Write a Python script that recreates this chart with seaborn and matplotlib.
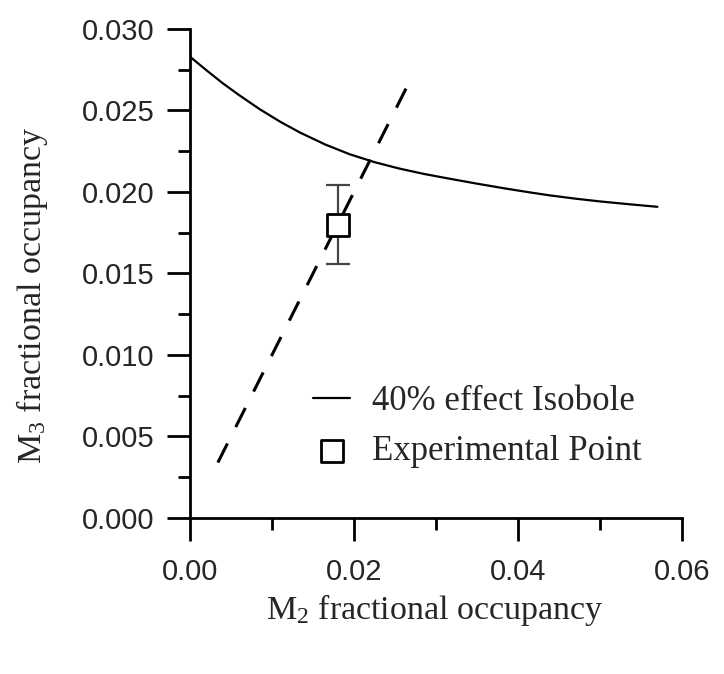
import numpy as np
import pandas as pd
import seaborn as sns
import matplotlib.pyplot as plt
from matplotlib.ticker import MultipleLocator, FormatStrFormatter

# isobole curve
isobole_x = [0.0, 0.002, 0.004, 0.006, 0.0085, 0.011, 0.0134, 0.0165, 0.0195, 0.0225,
             0.0255, 0.0285, 0.0317, 0.035, 0.0385, 0.0415, 0.0439, 0.047, 0.050,
             0.0535, 0.057]
isobole_y = [0.0283, 0.02747, 0.02667, 0.02594, 0.02508, 0.02431, 0.02365, 0.02291,
             0.02231, 0.02183, 0.02144, 0.02111, 0.02081, 0.02051, 0.02021, 0.01997,
             0.01979, 0.01959, 0.01942, 0.01925, 0.01909]

# dashed line (equal occupancy)
diag_x = [0.0034, 0.0265]
diag_y = [0.0034, 0.0265]

# experimental point
exp_x = [0.018]
exp_y = [0.018]
exp_err = [0.0024]

sns.set_style("ticks")
plt.rcParams['font.family'] = ['Liberation Sans', 'DejaVu Sans']
plt.rcParams['mathtext.default'] = 'regular'

fig = plt.figure(figsize=(7.24, 6.74), dpi=100)
ax = fig.add_axes([0.2624, 0.2315, 0.942 - 0.2624, 0.957 - 0.2315])

df_iso = pd.DataFrame({"x": isobole_x, "y": isobole_y})
sns.lineplot(data=df_iso, x="x", y="y", color="black", linewidth=1.6,
             sort=False, ax=ax, label="40% effect Isobole")

df_diag = pd.DataFrame({"x": diag_x, "y": diag_y})
sns.lineplot(data=df_diag, x="x", y="y", color="black", linewidth=2.2,
             linestyle=(0, (7, 6)), sort=False, ax=ax)

ax.errorbar(exp_x, exp_y, yerr=exp_err, fmt="none", ecolor="#444444",
            elinewidth=1.6, capsize=8.3, capthick=1.6, zorder=3)
sns.scatterplot(x=exp_x, y=exp_y, marker="s", s=16.5 ** 2, facecolor="white",
                edgecolor="black", linewidth=2, ax=ax, zorder=4,
                label="Experimental Point")

ax.set_xlim(0, 0.06)
ax.set_ylim(0, 0.030)
ax.xaxis.set_major_locator(MultipleLocator(0.02))
ax.xaxis.set_minor_locator(MultipleLocator(0.01))
ax.yaxis.set_major_locator(MultipleLocator(0.005))
ax.yaxis.set_minor_locator(MultipleLocator(0.0025))
ax.xaxis.set_major_formatter(FormatStrFormatter("%.2f"))
ax.yaxis.set_major_formatter(FormatStrFormatter("%.3f"))
ax.tick_params(which="major", length=16.5, width=2, labelsize=21, color="black")
ax.tick_params(axis="x", which="major", pad=12)
ax.tick_params(axis="y", which="major", pad=9)
ax.tick_params(which="minor", length=8.5, width=2, color="black")
for s in ["left", "bottom"]:
    ax.spines[s].set_linewidth(2)
    ax.spines[s].set_color("black")
sns.despine(ax=ax)

serif = ['Liberation Serif', 'DejaVu Serif']
ax.set_xlabel("M$_2$ fractional occupancy", fontsize=24.5, family=serif)
ax.set_ylabel("M$_3$ fractional occupancy", fontsize=24.5, family=serif)
ax.xaxis.set_label_coords(0.498, -0.151)
ax.yaxis.set_label_coords(-0.285, 0.456)

leg = ax.legend(loc="upper left", bbox_to_anchor=(0.2155, 0.307), frameon=False,
                prop={"family": serif, "size": 25}, handlelength=1.05,
                handletextpad=0.63, labelspacing=0.49, borderpad=0)

fig.savefig("out.png", dpi=100)
